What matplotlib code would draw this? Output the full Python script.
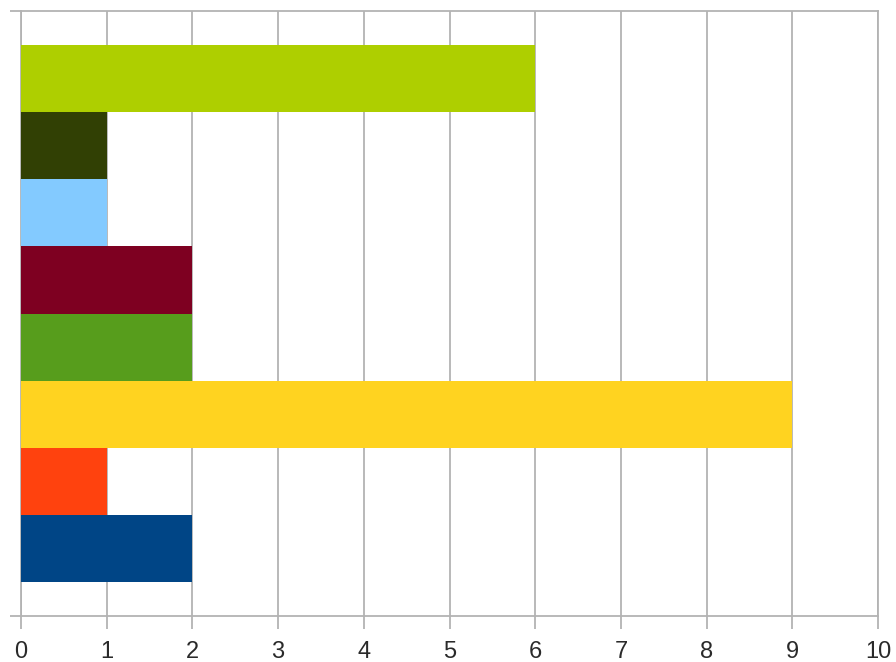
import matplotlib
matplotlib.use("Agg")
import matplotlib.pyplot as plt

# Series (bottom to top)
series = ["S1", "S2", "S3", "S4", "S5", "S6", "S7", "S8"]
values = [2, 1, 9, 2, 2, 1, 1, 6]
colors = ["#004586", "#ff420e", "#ffd320", "#579d1c", "#7e0021", "#83caff", "#314004", "#aecf00"]
xticks = [0, 1, 2, 3, 4, 5, 6, 7, 8, 9, 10]

plt.rcParams["font.family"] = ["Liberation Sans", "DejaVu Sans"]

fig = plt.figure(figsize=(8.96, 6.62), dpi=100)
ax = fig.add_axes([21/896, 1-616/662, (878-21)/896, (616-11)/662])

grid = "#b3b3b3"
ax.barh(range(len(values)), values, height=1.0, color=colors, zorder=3)

ax.set_xlim(0, 10)
ax.set_ylim(-1.0, 8.0)
ax.set_xticks(xticks)
ax.set_yticks([-1.0, 8.0])
ax.set_yticklabels([])
ax.xaxis.grid(True, color=grid, linewidth=1.3, zorder=0)
ax.tick_params(axis="x", length=9, width=1.3, color=grid, labelsize=17, labelcolor="#2a2a2a", pad=9)
ax.tick_params(axis="y", length=8, width=1.3, color=grid)
for s in ax.spines.values():
    s.set_color(grid)
    s.set_linewidth(1.3)

fig.savefig("out.png", dpi=100)
